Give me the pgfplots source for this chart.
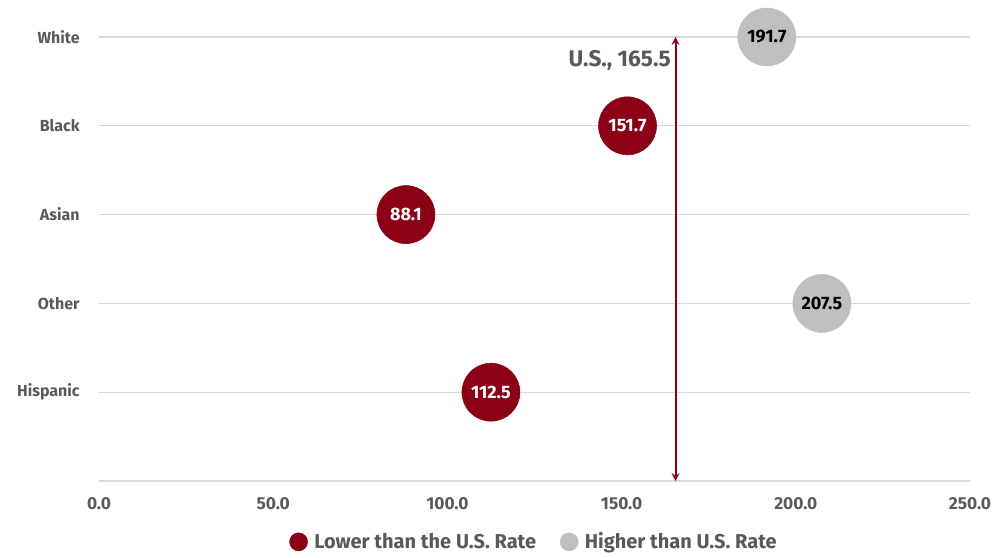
\documentclass[border=0pt]{standalone}
\usepackage{fontspec}
\setmainfont{Fira Sans}
\usepackage{pgfplots}
\pgfplotsset{compat=1.18}
\definecolor{darkred}{HTML}{8B0016}
\definecolor{lgray}{HTML}{BFBFBF}
\definecolor{txt}{HTML}{595959}
\definecolor{gridc}{HTML}{D9D9D9}
\begin{document}
\begin{tikzpicture}
\useasboundingbox (-74.25pt,-57pt) rectangle (672pt,360.75pt);
\begin{axis}[
  scale only axis,
  width=653.25pt, height=333pt,
  xmin=0, xmax=250, ymin=0, ymax=5,
  clip=false,
  axis x line*=bottom,
  axis y line*=left,
  x axis line style={gridc, line width=0.9pt, -},
  y axis line style={draw=none},
  xtick={0,50,100,150,200,250},
  xticklabel={\pgfmathprintnumber[fixed,fixed zerofill,precision=1]{\tick}},
  xticklabel style={font=\bfseries\fontsize{13}{15}\selectfont, text=txt, yshift=-9pt},
  /pgf/number format/assume math mode=true,
  major tick length=0pt,
  ytick={1,2,3,4,5},
  yticklabels={Hispanic,Other,Asian,Black,White},
  yticklabel style={font=\bfseries\fontsize{12}{14}\selectfont, text=txt, xshift=-11pt},
  ymajorgrids,
  grid style={gridc, line width=0.8pt},
  legend style={at={(0.5,-0.137)}, anchor=center, draw=none, legend columns=2,
    font=\bfseries\fontsize{15}{17}\selectfont, text=txt,
    /tikz/every odd column/.append style={column sep=3pt},
    /tikz/every even column/.append style={column sep=16pt}},
  legend cell align=left,
]
% U.S. arrow
\addplot[darkred, line width=1.6pt, <->, >=stealth, forget plot] coordinates {(165.5,0) (165.5,5)};
\node[anchor=east, font=\bfseries\fontsize{17}{19}\selectfont, text=txt] at (axis cs:165.5,4.74) {U.S., 165.5\hspace{9pt}};
% Lower bubbles
\addplot[only marks, mark=*, mark size=21.75pt, color=darkred, forget plot,
  nodes near coords, point meta=explicit symbolic,
  every node near coord/.append style={anchor=center, font=\bfseries\fontsize{13.5}{15}\selectfont, text=white}]
  coordinates {(151.7,4)[151.7] (88.1,3)[88.1] (112.5,1)[112.5]};
% Higher bubbles
\addplot[only marks, mark=*, mark size=21.75pt, color=lgray, forget plot,
  nodes near coords, point meta=explicit symbolic,
  every node near coord/.append style={anchor=center, font=\bfseries\fontsize{13.5}{15}\selectfont, text=black}]
  coordinates {(191.7,5)[191.7] (207.5,2)[207.5]};
\addlegendimage{only marks, mark=*, mark size=6.75pt, color=darkred}
\addlegendentry{Lower than the U.S. Rate}
\addlegendimage{only marks, mark=*, mark size=6.75pt, color=lgray}
\addlegendentry{Higher than U.S. Rate}
\end{axis}
\end{tikzpicture}
\end{document}
